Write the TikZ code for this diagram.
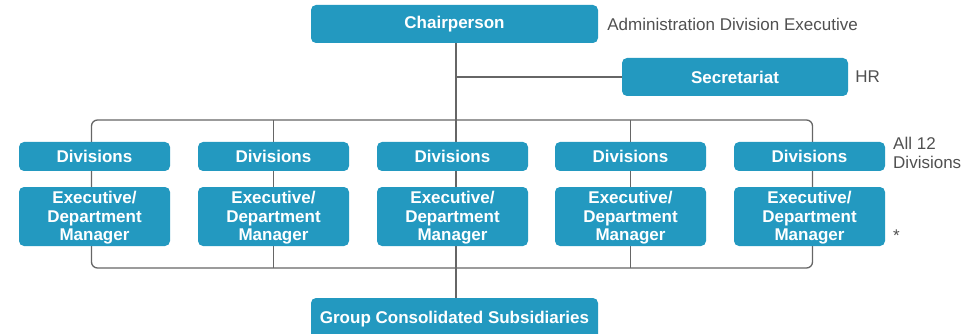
\documentclass[tikz,border=0pt]{standalone}
\usepackage{fontspec}
\setmainfont{Liberation Sans}
\usetikzlibrary{positioning, backgrounds}
\definecolor{orgblue}{HTML}{2399C0}
\definecolor{orgline}{HTML}{666666}
\definecolor{orgnote}{HTML}{505050}

\begin{document}
\begin{tikzpicture}[x=1pt, y=-1pt]
    \tikzset{
      ob/.style={fill=orgblue, text=white,
                 font=\fontsize{17}{18.5}\selectfont\bfseries,
                 shape=rectangle,
                 inner sep=0pt, align=center,
                 rounded corners=5pt},
      note/.style={text=orgnote, anchor=west, inner sep=0pt,
                   align=left,
                   font=\fontsize{17}{18.5}\selectfont},
      ln/.style={draw=orgline, line width=1.3pt}
    }
    \useasboundingbox (0,0) rectangle (980,334);

    \node[ob, minimum width=287pt, minimum height=38pt] (chair) at (454.5,24) {Chairperson};
    \node[ob, minimum width=226pt, minimum height=38pt] (secr) at (735,77) {Secretariat};

    % one column per division block
    \foreach \x [count=\i] in {94.5, 273.5, 452.5, 630.5, 809.5} {
        \node[ob, minimum width=151pt, minimum height=29pt] (div\i) at (\x,156.5) {Divisions};
        \node[ob, minimum width=151pt, minimum height=59pt] (exec\i) at (\x,216.5) {\rule{0pt}{15pt}Executive/\\Department\\Manager};
    }

    \node[ob, minimum width=287pt, minimum height=42pt] (group) at (454.5,319) {Group Consolidated Subsidiaries};

    \coordinate (bt) at (0,120);
    \coordinate (bb) at (0,268);
    \coordinate (mid) at ([xshift=1.5pt]chair.south);

    \begin{scope}[on background layer]
        \draw[ln] (mid) -- (mid |- group.north);
        \draw[ln] (mid |- secr) -- (secr.west);
        \draw[ln, rounded corners=6pt] ([xshift=-3pt]div1 |- bt) rectangle ([xshift=3pt]div5 |- bb);
        \foreach \i in {2,4}
            \draw[ln] (div\i |- bt) -- (div\i |- bb);
    \end{scope}

    \node[note, right=9pt of chair] (adm) {Administration Division Executive};
    \node[note, right=7pt of secr] (hr) {HR};
    \node[note, anchor=north west] (all) at (893,137) {All 12\\Divisions};
    \node[note, anchor=north west] (star) at (893,230) {*};

\end{tikzpicture}
\end{document}
